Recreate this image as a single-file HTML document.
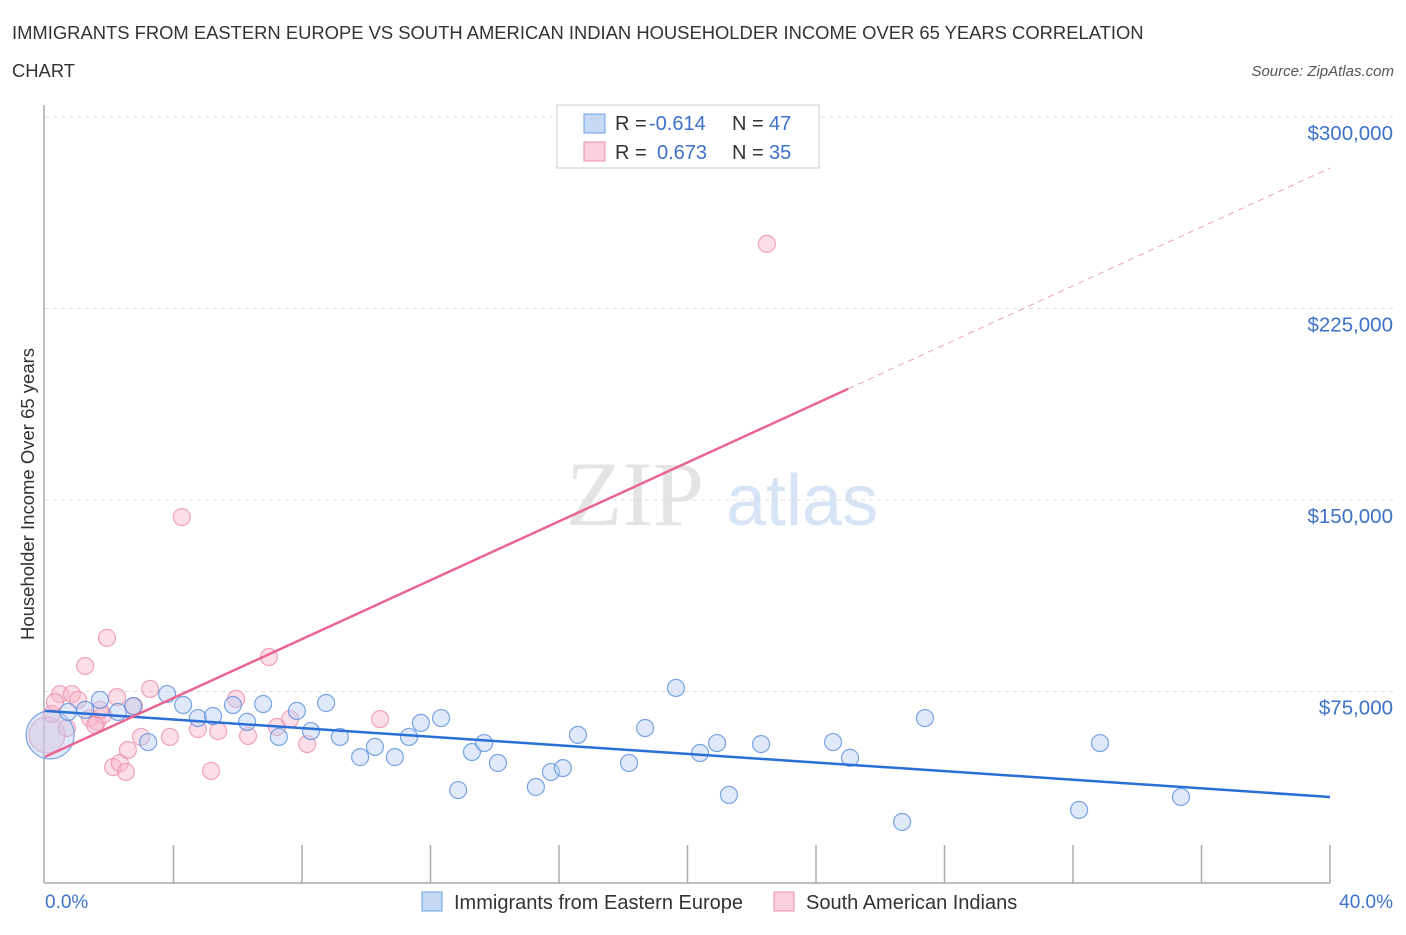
<!DOCTYPE html>
<html><head><meta charset="utf-8"><style>
body{margin:0;background:#fff;font-family:"Liberation Sans",sans-serif;}
</style></head><body>
<svg width="1406" height="930" xmlns="http://www.w3.org/2000/svg" style="font-family:'Liberation Sans',sans-serif">
<text x="12" y="39" font-size="18.4" fill="#333">IMMIGRANTS FROM EASTERN EUROPE VS SOUTH AMERICAN INDIAN HOUSEHOLDER INCOME OVER 65 YEARS CORRELATION</text>
<text x="12" y="77" font-size="18.4" fill="#333">CHART</text>
<text x="1394" y="76" font-size="15" fill="#555" text-anchor="end" font-style="italic">Source: ZipAtlas.com</text>
<g>
<text x="635" y="525" font-size="92" fill="#e4e4e4" text-anchor="middle" font-family="Liberation Serif,serif">ZIP</text>
<text x="802" y="525" font-size="72" fill="#d6e4f5" text-anchor="middle">atlas</text>
</g>
<g id="grid"></g>
<g id="axes"></g>
<g id="marks"></g>
<text transform="translate(34,494) rotate(-90)" font-size="18.5" fill="#333" text-anchor="middle">Householder Income Over 65 years</text>
<text x="45" y="908" font-size="19" fill="#3d72c8">0.0%</text>
<text x="1393" y="908" font-size="19" fill="#3d72c8" text-anchor="end">40.0%</text>
<g>
<rect x="557" y="105" width="262" height="63" fill="#fff" stroke="#ccc"/>
<rect x="584" y="114" width="21" height="19" fill="#c5d9f5" stroke="#6f9fe0"/>
<rect x="584" y="142" width="21" height="19" fill="#fbd0dc" stroke="#eb8eab"/>
<text x="615" y="130" font-size="20" fill="#333">R =</text>
<text x="649" y="130" font-size="20" fill="#3d72c8">-0.614</text>
<text x="732" y="130" font-size="20" fill="#333">N =</text>
<text x="769" y="130" font-size="20" fill="#3d72c8">47</text>
<text x="615" y="159" font-size="20" fill="#333">R =</text>
<text x="657" y="159" font-size="20" fill="#3d72c8">0.673</text>
<text x="732" y="159" font-size="20" fill="#333">N =</text>
<text x="769" y="159" font-size="20" fill="#3d72c8">35</text>
</g>
<g>
<rect x="422" y="892" width="20" height="19" fill="#c5d9f5" stroke="#6f9fe0"/>
<text x="454" y="909" font-size="20" fill="#333">Immigrants from Eastern Europe</text>
<rect x="774" y="892" width="20" height="19" fill="#fbd0dc" stroke="#eb8eab"/>
<text x="806" y="909" font-size="20" fill="#333">South American Indians</text>
</g>
</svg>
<script>
const yTicks=[75000,150000,225000,300000];
const yTickLabels=["$75,000","$150,000","$225,000","$300,000"];
const blueX=[0.16,0.72,1.25,1.71,2.27,2.74,3.21,3.80,4.30,4.76,5.23,5.85,6.29,6.79,7.28,7.84,8.28,8.75,9.18,9.81,10.27,10.89,11.33,11.70,12.33,12.86,13.29,13.67,14.10,15.28,15.75,16.12,16.59,18.18,18.68,19.64,20.39,20.92,21.29,22.29,24.53,25.06,26.68,27.39,32.19,32.84,35.36];
const blueY=[58.0,67.0,67.8,71.7,67.0,69.3,55.2,74.0,69.7,64.6,65.4,69.7,63.1,70.1,57.2,67.4,59.5,70.5,57.2,49.3,53.3,49.3,57.2,62.7,64.6,36.4,51.3,54.8,47.0,37.6,43.5,45.0,58.0,47.0,60.7,76.4,50.9,54.8,34.5,54.4,55.2,49.0,23.9,64.6,28.6,54.8,33.7];
const pinkX=[0.06,0.22,0.47,0.68,0.84,1.03,1.25,1.40,1.62,1.81,1.93,2.12,2.24,2.33,2.52,2.58,2.77,2.99,3.27,3.89,4.26,4.76,5.17,5.39,5.95,6.32,6.97,7.22,7.63,8.16,10.43,22.47,0.31,1.71,1.56];
const pinkY=[58.0,66.2,74.0,60.7,74.0,71.7,85.0,64.6,63.1,65.8,96.0,45.4,72.8,47.0,43.5,52.1,69.3,57.2,76.0,57.2,143.3,60.3,43.9,59.5,72.1,57.6,88.5,61.1,64.2,54.4,64.2,250.3,70.9,67.8,61.9];
const blueTrend=[67.4,33.7];
const pinkTrend=[49.4,280.0];
const pinkSolidEnd=25.0;
const NS="http://www.w3.org/2000/svg";
const xs=p=>45+p/40*1285;
const ys=k=>883-k*1000*766/300000;
function mk(t,a,parent){const e=document.createElementNS(NS,t);for(const k in a)e.setAttribute(k,a[k]);document.getElementById(parent).appendChild(e);return e;}
yTicks.forEach((v,i)=>{
 const g=mk('line',{x1:45,x2:1393,y1:ys(v/1000),y2:ys(v/1000),stroke:'#ddd','stroke-dasharray':'4,4'},'grid');
 
 
 const t=mk('text',{x:1393,y:ys(v/1000)+23,'font-size':20.5,fill:'#3d72c8','text-anchor':'end'},'grid');
 t.textContent=yTickLabels[i];
 
 
});
let a=mk('line',{x1:44,x2:44,y1:105,y2:883,stroke:'#aaa','stroke-width':1.5},'axes');


a=mk('line',{x1:44,x2:1330,y1:883,y2:883,stroke:'#aaa','stroke-width':1.5},'axes');


for(let i=1;i<=10;i++){const t=mk('line',{x1:xs(i*4),x2:xs(i*4),y1:845,y2:883,stroke:'#aaa','stroke-width':1.5},'axes');
 
 }
function dots(X,Y,fill,stroke,name,big){X.forEach((x,i)=>{const r=i===0?big:8.5;
 const c=mk('circle',{cx:xs(x),cy:ys(Y[i]),r:r,fill:fill,'fill-opacity':0.45,stroke:stroke,'stroke-opacity':0.8,'stroke-width':1.2},'marks');
 
 });}
dots(pinkX,pinkY,'#f6b6ca','#eb8eab','pink-point',18);
dots(blueX,blueY,'#b7cff2','#5b8fdc','blue-point',24);
const pAt=x=>pinkTrend[0]+(pinkTrend[1]-pinkTrend[0])*x/40;
let l=mk('line',{x1:xs(0),y1:ys(blueTrend[0]),x2:xs(40),y2:ys(blueTrend[1]),stroke:'#2a6fd6','stroke-width':2.5},'marks');


l=mk('line',{x1:xs(0),y1:ys(pinkTrend[0]),x2:xs(pinkSolidEnd),y2:ys(pAt(pinkSolidEnd)),stroke:'#e8668f','stroke-width':2.5},'marks');


l=mk('line',{x1:xs(pinkSolidEnd),y1:ys(pAt(pinkSolidEnd)),x2:xs(40),y2:ys(pinkTrend[1]),stroke:'#eda0b8','stroke-width':1,'stroke-dasharray':'6,5'},'marks');


</script>
</body></html>
